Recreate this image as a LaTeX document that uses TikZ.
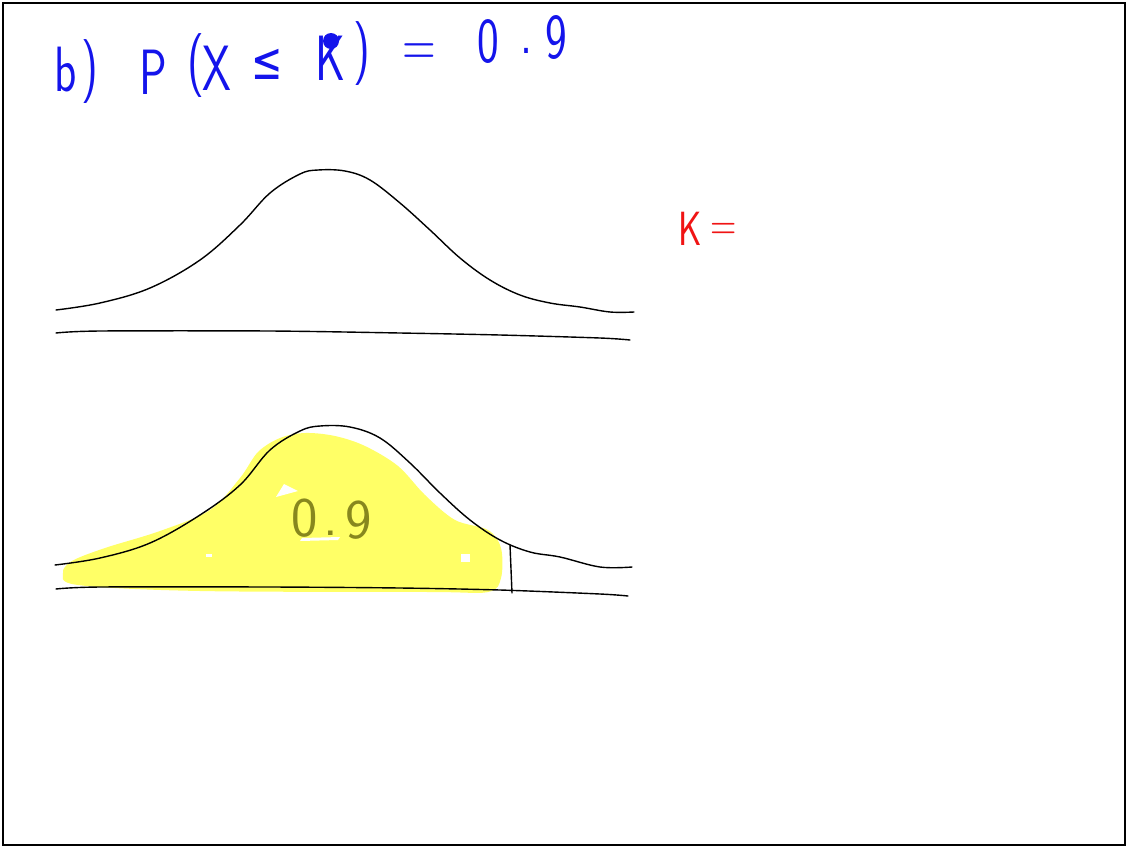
\documentclass[tikz,border=0pt]{standalone}
\usepackage{fontspec}
\newfontfamily\djv{DejaVu Sans}
\definecolor{penblue}{RGB}{20,20,235}
\definecolor{penred}{RGB}{240,20,20}
\definecolor{hilite}{RGB}{255,255,102}
\definecolor{olivepen}{RGB}{135,135,30}
\tikzset{
  curve/.style={black, line width=1.4pt, line join=round, line cap=round},
  titletxt/.style={text=penblue, inner sep=0pt, xscale=0.72, font=\fontsize{64}{64}\sffamily\selectfont},
  redtxt/.style={text=penred, inner sep=0pt, xscale=0.75, font=\fontsize{48}{48}\sffamily\selectfont},
  olivetxt/.style={text=olivepen, inner sep=0pt, font=\fontsize{56}{56}\sffamily\selectfont},
}
\begin{document}
\begin{tikzpicture}[x=1pt,y=-1pt]
\useasboundingbox (0,0) rectangle (1128,847);
\fill[white] (0,0) rectangle (1128,847);
\draw[black, line width=2pt] (3,3) rectangle (1125,845);

% title
\node[titletxt] (tb) at (66,70) {b};
\node[titletxt] (tbr) at (90,72) {)};
\node[titletxt] (tp) at (153,72) {P};
\node[titletxt] (tl) at (196,66) {(};
\node[titletxt] (tx) at (217,68) {X};
\node[titletxt, font=\fontsize{52}{52}\djv\selectfont] (tle) at (267,64) {≤};
\node[titletxt] (tk) at (330,58) {K};
\fill[penblue] (331,41) circle (8);
\node[titletxt] (tr) at (362,54) {)};
\node[titletxt] (teq) at (419,55) {=};
\node[titletxt] (t0) at (488,42) {0};
\node[titletxt] (tdot) at (527,51) {.};
\node[titletxt] (t9) at (556,38) {9};

% K=
\node[redtxt] (kk) at (690,229) {K};
\node[redtxt] (keq) at (724,232) {=};

% upper curve and axis
\draw[curve] plot[smooth, tension=0.6] coordinates {(56,310) (100,303) (150,288) (200,260) (240,225) (270,193) (300,174) (318,170) (345,171) (370,180) (400,203) (430,230) (460,258) (490,280) (520,295) (550,303) (580,307) (610,312) (634,312)};
\draw[curve] plot[smooth, tension=0.5] coordinates {(56,333) (100,331) (270,331) (400,333) (500,335) (600,338) (630,340)};

% yellow highlight
\fill[hilite] plot[smooth cycle, tension=0.55] coordinates {(63,573) (72,561) (105,548) (160,531) (210,510) (240,478) (258,452) (280,438) (305,433) (335,436) (365,446) (398,466) (425,495) (455,520) (488,530) (501,548) (501,578) (488,592) (430,592) (200,591) (78,585)};
% white specks
\fill[white] (276,497) -- (284,484) -- (298,491) -- cycle;
\fill[white] (302,538) -- (340,537) -- (338,540) -- (300,541) -- cycle;
\fill[white] (461,554) rectangle (470,562);
\fill[white] (206,554) rectangle (212,557);

% lower curve and axis
\draw[curve] plot[smooth, tension=0.6] coordinates {(55,565) (100,558) (150,543) (200,515) (240,485) (270,450) (300,431) (320,426) (350,427) (380,438) (410,463) (440,493) (470,520) (500,540) (530,552) (560,557) (600,567) (632,567)};
\draw[curve] plot[smooth, tension=0.5] coordinates {(56,589) (100,587) (270,587) (400,588) (500,590) (600,594) (628,596)};
\draw[curve] (510,545) -- (512,593);

% 0.9 label
\node[olivetxt] (n0) at (305,518) {0};
\node[olivetxt] (ndot) at (331,533) {.};
\node[olivetxt] (n9) at (359,520) {9};
\end{tikzpicture}
\end{document}
